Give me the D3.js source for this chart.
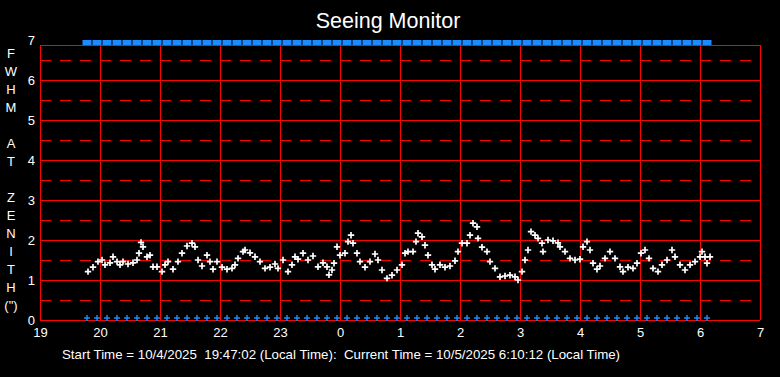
<html lang="en">
<head>
  <meta charset="UTF-8"/>
  <script src="https://d3js.org/d3.v7.min.js"></script>
  <style>
body {
  margin: 0;
  background: #000;
  font-family: 'Liberation Sans', Arial, sans-serif;
}

svg {
  display: block;
  background: #000;
}

text {
  fill: #fff;
}

text.title {
  font-size: 21.5px;
}

text.tick_label {
  font-size: 13px;
}

text.ylabel {
  font-size: 13px;
}

text.footer {
  font-size: 13.3px;
  white-space: pre;
}

.grid line {
  stroke: #ff0000;
  stroke-width: 1;
  shape-rendering: crispEdges;
}

.grid path {
  stroke-width: 0;
}

.halfgrid line {
  stroke: #ff0000;
  stroke-width: 1;
  stroke-dasharray: 11 9;
  shape-rendering: crispEdges;
}

.seeing path {
  stroke: #fff;
  stroke-width: 1.7;
  fill: none;
}

.sample path {
  stroke: #1a8cff;
  stroke-width: 1.5;
  fill: none;
}
</style>
</head>
<body>
<svg width="780" height="377"></svg>

<script>

  // minutes since 19:00 on 10/4/2025
  const seeingMinutes = [
    48,53,58,62,65,70,73,77,80,83,88,93,97,99,101,103,107,110,113,117,122,125,128,133,138,142,147,152,155,158,162,167,170,173,177,182,187,192,195,198,203,
    205,210,215,220,225,230,235,238,243,248,252,255,258,263,268,273,278,283,287,289,292,294,297,300,305,308,311,313,317,320,325,330,335,338,342,347,352,357,
    362,365,368,373,376,378,382,385,388,392,395,400,405,410,415,418,422,427,430,433,437,438,442,447,450,455,460,465,470,475,478,482,485,488,491,495,498,502,503,508,513,518,
    520,525,530,535,540,543,547,550,553,557,560,565,570,575,580,583,588,593,597,601,605,609,613,618,622,627,632,635,640,645,650,655,660,662,665,667,670
  ];

  // FWHM at zenith (arcsec)
  const seeingValues = [
    1.21,1.32,1.46,1.5,1.38,1.43,1.58,1.46,1.38,1.46,1.40,1.43,1.5,1.67,1.94,1.83,1.58,1.62,1.33,1.33,1.21,1.38,1.46,1.27,1.46,1.67,1.85,1.92,1.83,1.5,1.35,1.62,1.46,1.27,1.46,1.32,1.27,1.29,1.38,1.54,1.71,
    1.75,1.68,1.58,1.46,1.29,1.32,1.40,1.29,1.5,1.21,1.38,1.58,1.52,1.67,1.5,1.60,1.33,1.43,1.33,1.13,1.25,1.42,1.83,1.62,1.67,1.96,2.12,1.92,1.67,1.46,1.32,1.46,1.65,1.5,1.25,1.04,1.12,1.25,
    1.38,1.67,1.71,1.71,1.96,2.17,2.08,1.87,1.62,1.38,1.27,1.38,1.32,1.35,1.48,1.71,1.92,1.92,2.12,2.42,2.33,2.04,1.82,1.71,1.46,1.29,1.08,1.10,1.12,1.08,1.0,1.21,1.5,1.75,2.21,2.12,2.04,1.92,1.71,2.0,1.98,1.93,
    1.83,1.71,1.54,1.5,1.52,1.83,1.96,1.75,1.42,1.27,1.35,1.54,1.71,1.54,1.33,1.21,1.32,1.29,1.42,1.67,1.75,1.54,1.29,1.21,1.38,1.5,1.75,1.58,1.38,1.25,1.38,1.46,1.58,1.71,1.58,1.42,1.58
  ];

  // sample markers (minutes since 19:00)
  const sampleMinutes = [
    47,57,67,77,87,97,107,117,127,137,147,157,167,177,187,197,207,217,227,237,247,257,267,277,287,297,307,317,
    327,337,347,357,367,377,387,397,407,417,427,437,447,457,467,477,487,497,507,517,527,537,547,557,567,577,
    587,597,607,617,627,637,647,657,667
  ];

  const hourTicks = [19,20,21,22,23,24,25,26,27,28,29,30,31];
  const valueTicks = [0,1,2,3,4,5,6,7];
  const halfTicks = [0.5,1.5,2.5,3.5,4.5,5.5,6.5];
  const yLetters = ['F','W','H','M','','A','T','','Z','E','N','I','T','H','(")'];

  const title = 'Seeing Monitor';
  const footer = 'Start Time = 10/4/2025  19:47:02 (Local Time):  Current Time = 10/5/2025 6:10:12 (Local Time)';

  const svg = d3.select('svg');

  const plotLeft = 40, plotRight = 760, plotTop = 45, plotBottom = 320;

  const x = d3.scaleLinear()
    .domain([19,31])
    .range([plotLeft,plotRight]);

  const y = d3.scaleLinear()
    .domain([0,7])
    .range([plotBottom,40]);

  const toHour = m => 19 + m/60;

  // dashed half-unit lines
  svg.append('g')
    .attr('class','halfgrid')
    .selectAll('line')
    .data(halfTicks)
    .join('line')
      .attr('x1',plotLeft)
      .attr('x2',plotRight)
      .attr('y1',d => Math.round(y(d)) + 0.5)
      .attr('y2',d => Math.round(y(d)) + 0.5);

  // solid horizontal grid
  svg.append('g')
    .attr('class','grid')
    .attr('transform',`translate(${plotLeft},0)`)
    .call(d3.axisLeft(y)
      .tickValues(valueTicks.filter(d => d < 7))
      .tickSize(-(plotRight - plotLeft))
      .tickFormat(''));

  // solid vertical grid
  svg.append('g')
    .attr('class','grid')
    .selectAll('line')
    .data(hourTicks)
    .join('line')
      .attr('x1',d => x(d) + 0.5)
      .attr('x2',d => x(d) + 0.5)
      .attr('y1',plotTop)
      .attr('y2',plotBottom);

  // top frame
  svg.append('g')
    .attr('class','grid')
    .append('line')
      .attr('x1',plotLeft)
      .attr('x2',plotRight + 1)
      .attr('y1',plotTop + 0.5)
      .attr('y2',plotTop + 0.5);

  // tick labels
  const x_axis = d3.axisBottom(x)
    .tickValues(hourTicks)
    .tickSize(0)
    .tickPadding(0)
    .tickFormat(d => String(d % 24));

  svg.append('g')
    .attr('transform',`translate(0,${plotBottom + 8})`)
    .call(x_axis)
    .call(g => g.select('.domain').remove())
    .selectAll('text')
      .attr('class','tick_label')
      .attr('dy','0.71em')
      .attr('font-family',null)
      .attr('font-size',null);

  const y_axis = d3.axisLeft(y)
    .tickValues(valueTicks)
    .tickSize(0)
    .tickPadding(0)
    .tickFormat(d3.format('d'));

  svg.append('g')
    .attr('transform','translate(35,0)')
    .call(y_axis)
    .call(g => g.select('.domain').remove())
    .selectAll('text')
      .attr('class','tick_label')
      .attr('font-family',null)
      .attr('font-size',null);

  // vertical y-axis title, one letter per line
  svg.append('g')
    .selectAll('text')
    .data(yLetters)
    .join('text')
      .attr('class','ylabel')
      .attr('x',11)
      .attr('y',(d,i) => 58 + i*18)
      .attr('text-anchor','middle')
      .text(d => d);

  // top sample markers
  svg.append('g')
    .selectAll('rect')
    .data(sampleMinutes)
    .join('rect')
      .attr('x',d => x(toHour(d)) - 4.5)
      .attr('y',40)
      .attr('width',9)
      .attr('height',5)
      .attr('fill','#1a8cff');

  // bottom sample markers
  const cross = s => `M${-s},0H${s}M0,${-s}V${s}`;

  svg.append('g')
    .attr('class','sample')
    .selectAll('path')
    .data(sampleMinutes)
    .join('path')
      .attr('transform',d => `translate(${x(toHour(d))},${y(0) - 2})`)
      .attr('d',cross(3));

  // seeing data
  svg.append('g')
    .attr('class','seeing')
    .selectAll('path')
    .data(seeingMinutes.map((m,i) => ({m: m, v: seeingValues[i]})))
    .join('path')
      .attr('transform',d => `translate(${x(toHour(d.m))},${y(d.v)})`)
      .attr('d',cross(3.2));

  svg.append('text')
    .attr('class','title')
    .attr('x',388)
    .attr('y',28)
    .attr('text-anchor','middle')
    .text(title);

  svg.append('text')
    .attr('class','footer')
    .attr('x',62)
    .attr('y',359)
    .text(footer);

</script>
</body>
</html>
